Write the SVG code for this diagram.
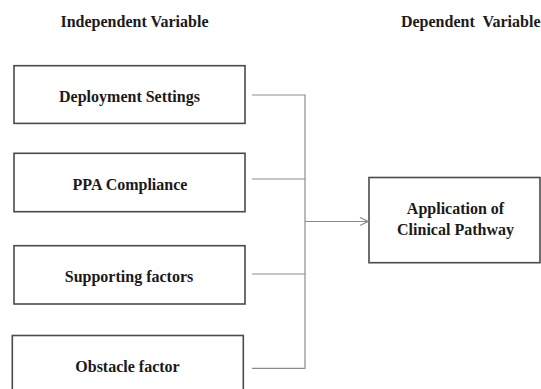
<svg xmlns="http://www.w3.org/2000/svg" width="541" height="389" viewBox="0 0 541 389">
<defs>
<style>
.box{fill:#fff;stroke:#4a4a4a;stroke-width:1.6}
.lbl{font-family:"Liberation Serif","Times New Roman",serif;font-weight:bold;font-size:16px;fill:#1a1a1a;text-anchor:middle}
.conn{fill:none;stroke:#8c8c8c;stroke-width:1.2}
</style>
<marker id="arr" markerWidth="10" markerHeight="10" refX="9" refY="5" orient="auto" markerUnits="userSpaceOnUse">
<path d="M1,1 L9,5 L1,9" fill="none" stroke="#8c8c8c" stroke-width="1.2"/>
</marker>
</defs>
<rect width="541" height="389" fill="#fff"/>
<text class="lbl" x="134.5" y="26.7">Independent Variable</text>
<text class="lbl" x="540.5" y="26.7" style="text-anchor:end" xml:space="preserve">Dependent  Variable</text>
<g id="n1"><rect class="box" x="14" y="65.7" width="231" height="57.7"/><text class="lbl" x="129.5" y="101.7">Deployment Settings</text></g>
<g id="n2"><rect class="box" x="14" y="153.3" width="231" height="58.4"/><text class="lbl" x="130" y="190">PPA Compliance</text></g>
<g id="n3"><rect class="box" x="14" y="245.7" width="231" height="58.3"/><text class="lbl" x="129" y="281.7">Supporting factors</text></g>
<g id="n4"><rect class="box" x="12.3" y="335.5" width="231" height="62"/><text class="lbl" x="127.5" y="372.3">Obstacle factor</text></g>
<g id="n5"><rect class="box" x="369" y="177.5" width="171" height="85.2"/><text class="lbl" x="455.5" y="213.5">Application of</text><text class="lbl" x="455.5" y="235">Clinical Pathway</text></g>
<g id="connectors">
<path class="conn" d="M252,95 H305 V368.3 H252"/>
<path class="conn" d="M252,179 H305"/>
<path class="conn" d="M252,274 H305"/>
<path class="conn" d="M305,221.5 H368" marker-end="url(#arr)"/>
</g>
</svg>
